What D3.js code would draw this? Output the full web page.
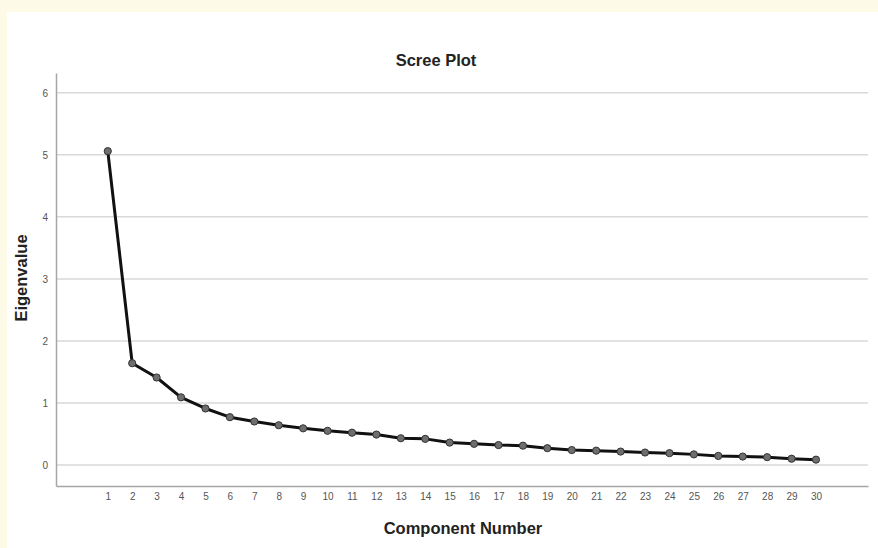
<!DOCTYPE html>
<html>
<head>
<meta charset="utf-8">
<script src="https://cdn.jsdelivr.net/npm/d3@7"></script>
<style>
html,body{margin:0;padding:0;background:#fefae8;}
svg{display:block;font-family:"Liberation Sans",Arial,sans-serif;}
</style>
</head>
<body>
<svg id="chart" width="878" height="548"></svg>
<script>
const components = d3.range(1, 31);
const eigenvalues = [5.06, 1.64, 1.41, 1.09, 0.91, 0.77, 0.70, 0.64, 0.59, 0.55,
  0.52, 0.49, 0.43, 0.42, 0.36, 0.34, 0.32, 0.31, 0.27, 0.24,
  0.23, 0.215, 0.20, 0.19, 0.17, 0.145, 0.135, 0.125, 0.10, 0.085];
const yTicks = [0, 1, 2, 3, 4, 5, 6];
const title = "Scree Plot";
const xTitle = "Component Number";
const yTitle = "Eigenvalue";

const svg = d3.select("#chart");
svg.append("rect").attr("x", 7).attr("y", 12).attr("width", 871).attr("height", 536).attr("fill", "#ffffff");

const mLeft = 56, mRight = 868, mTop = 73, mBottom = 486;
const x = d3.scaleLinear().domain([1 - 2.12, 30 + 2.13]).range([mLeft, mRight]);
const y = d3.scaleLinear().domain([-0.34, 6.32]).range([mBottom, mTop]);

// gridlines
svg.append("g").selectAll("line").data(yTicks).join("line")
  .attr("x1", mLeft).attr("x2", mRight)
  .attr("y1", d => y(d)).attr("y2", d => y(d))
  .attr("stroke", "#d9d9d9").attr("stroke-width", 1.5);

// y axis
const yAxis = svg.append("g").attr("transform", `translate(${mLeft},0)`)
  .call(d3.axisLeft(y).tickValues(yTicks).tickSize(0).tickPadding(8).tickFormat(d3.format("d")));
yAxis.select(".domain").attr("stroke", "#a6a6a6").attr("stroke-width", 1.5);
yAxis.selectAll("text").attr("fill", "#555").attr("font-size", 10);

// x axis
const xAxis = svg.append("g").attr("transform", `translate(0,${mBottom})`)
  .call(d3.axisBottom(x).tickValues(components).tickSize(0).tickPadding(7).tickFormat(d3.format("d")));
xAxis.select(".domain").attr("stroke", "#a6a6a6").attr("stroke-width", 1.5);
xAxis.selectAll("text").attr("fill", "#555").attr("font-size", 10);

// line
const line = d3.line().x((d, i) => x(components[i])).y(d => y(d));
svg.append("path").datum(eigenvalues).attr("d", line)
  .attr("fill", "none").attr("stroke", "#111").attr("stroke-width", 3).attr("stroke-linejoin", "round");

svg.append("g").selectAll("circle").data(eigenvalues).join("circle")
  .attr("cx", (d, i) => x(components[i])).attr("cy", d => y(d))
  .attr("r", 3.6).attr("fill", "#6e6e6e").attr("stroke", "#333").attr("stroke-width", 1);

// titles
svg.append("text").attr("x", 436).attr("y", 66).attr("text-anchor", "middle")
  .attr("font-size", 16.5).attr("font-weight", "bold").attr("fill", "#222").text(title);
svg.append("text").attr("x", 463).attr("y", 534).attr("text-anchor", "middle")
  .attr("font-size", 16.5).attr("font-weight", "bold").attr("fill", "#222").text(xTitle);
svg.append("text").attr("transform", "translate(27,278) rotate(-90)").attr("text-anchor", "middle")
  .attr("font-size", 16.5).attr("font-weight", "bold").attr("fill", "#222").text(yTitle);
</script>
</body>
</html>
